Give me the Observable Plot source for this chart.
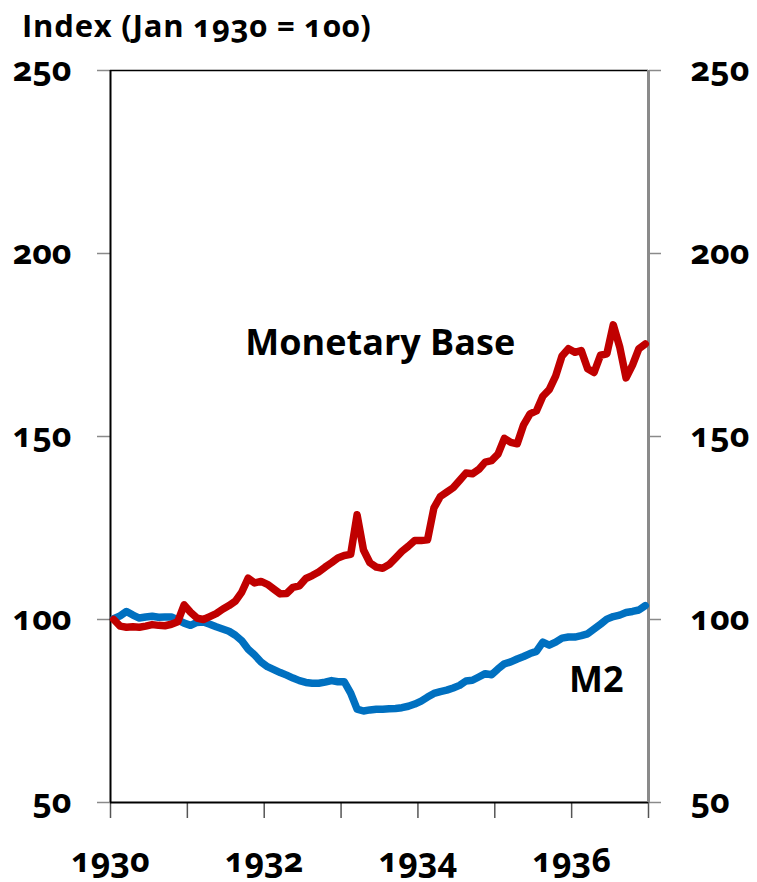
<!DOCTYPE html>
<html>
<head>
<meta charset="utf-8">
<script src="https://cdn.jsdelivr.net/npm/d3@7"></script>
<script src="https://cdn.jsdelivr.net/npm/@observablehq/plot@0.6"></script>
<style>
  html, body { margin: 0; padding: 0; background: #fff; }
  body { width: 757px; height: 882px; overflow: hidden; font-family: "Open Sans", Lato, sans-serif; }
  #title { height: 40px; position: relative; }
  #title span { position: absolute; left: 22px; top: 10px; font-size: 31px; line-height: 31px; letter-spacing: 0.8px; font-weight: 700; color: #000; font-variant-numeric: oldstyle-nums; white-space: nowrap; }
</style>
</head>
<body>
<div id="title"><span>Index (Jan 1930 = 100)</span></div>
<div id="chart"></div>
<script>
// Monthly values, Jan 1930 – Dec 1936 (index, Jan 1930 = 100)
const startYear = 1930;
const yearTicks = [1930, 1931, 1932, 1933, 1934, 1935, 1936, 1937];
const yearLabels = [1930, 1932, 1934, 1936];
const yTicks = [50, 100, 150, 200, 250];

const monetaryBase = [
  100.0, 98.2, 97.9, 98.0, 97.9, 98.2, 98.6, 98.4, 98.3, 98.7, 99.4, 104.0,
  102.0, 100.4, 100.0, 100.8, 101.6, 102.8, 103.8, 105.0, 107.5, 111.3, 110.0, 110.4,
  109.6, 108.3, 107.0, 107.1, 108.8, 109.2, 111.2, 112.0, 113.0, 114.3, 115.5, 116.8,
  117.5, 117.8, 128.6, 119.0, 115.5, 114.3, 114.0, 115.0, 116.8, 118.6, 120.0, 121.6,
  121.6, 121.8, 130.5, 133.6, 134.8, 136.0, 138.0, 140.0, 139.8, 141.0, 143.0, 143.4,
  145.2, 149.5, 148.4, 148.0, 153.2, 156.2, 157.0, 161.0, 162.8, 166.5, 172.0, 174.0,
  173.0, 173.5, 168.5, 167.5, 172.2, 172.6, 180.5, 174.5, 166.0, 169.5, 174.0, 175.3
];

const m2 = [
  100.2, 101.0, 102.2, 101.2, 100.4, 100.7, 100.9, 100.6, 100.7, 100.7, 99.9, 99.0,
  98.4, 99.2, 99.3, 98.7, 98.0, 97.4, 96.8, 95.7, 94.2, 91.9, 90.3, 88.4,
  87.1, 86.3, 85.5, 84.8, 84.0, 83.3, 82.8, 82.6, 82.6, 82.9, 83.3, 83.0,
  83.0, 79.9, 75.5, 75.0, 75.3, 75.5, 75.5, 75.6, 75.7, 75.9, 76.3, 76.9,
  77.7, 78.8, 79.8, 80.3, 80.7, 81.3, 82.0, 83.2, 83.4, 84.3, 85.2, 84.9,
  86.5, 87.9, 88.4, 89.2, 89.9, 90.7, 91.3, 93.8, 93.0, 93.8, 94.9, 95.2,
  95.2, 95.6, 96.1, 97.4, 98.7, 100.1, 100.8, 101.2, 101.9, 102.2, 102.6, 103.8
];

const monthX = (d, i) => startYear + (i + 0.5) / 12;
const font = {fontSize: 34, fontWeight: 700, fontVariant: "oldstyle-nums"};
const grey = "#8a8a8a";

const chart = Plot.plot({
  width: 757,
  height: 842,
  marginLeft: 110,
  marginRight: 109,
  marginTop: 30,
  marginBottom: 80,
  style: {fontFamily: "'Open Sans', Lato, sans-serif", color: "#000", background: "#fff"},
  x: {domain: [1930, 1937]},
  y: {domain: [50, 250]},
  marks: [
    Plot.axisY({anchor: "left", ticks: yTicks, tickSize: 13, tickPadding: 26, stroke: grey, strokeWidth: 1.5, tickFormat: d => String(d), ...font}),
    Plot.axisY({anchor: "right", ticks: yTicks, tickSize: 12, tickPadding: 30, stroke: grey, strokeWidth: 1.5, tickFormat: d => String(d), ...font}),
    Plot.axisX({ticks: yearTicks, tickSize: 16, stroke: "#555", strokeWidth: 1.5, tickFormat: () => ""}),
    Plot.axisX({ticks: yearLabels, tickSize: 0, tickPadding: 45, tickFormat: d => String(d), ...font}),
    Plot.ruleY([250], {stroke: "#000", strokeWidth: 1.5}),
    Plot.ruleY([50], {stroke: "#000", strokeWidth: 2}),
    Plot.ruleX([1930], {stroke: "#000", strokeWidth: 2}),
    Plot.ruleX([1937], {stroke: grey, strokeWidth: 3}),
    Plot.line(m2, {x: monthX, y: d => d, stroke: "#0070C0", strokeWidth: 7.5}),
    Plot.line(monetaryBase, {x: monthX, y: d => d, stroke: "#C00000", strokeWidth: 7.5}),
    Plot.text(["Monetary Base"], {x: 1933.51, y: 175.4, text: d => d, fontSize: 36, fontWeight: 700, fill: "#000"}),
    Plot.text(["M2"], {x: 1936.32, y: 83.3, text: d => d, fontSize: 36, fontWeight: 700, fontVariant: "lining-nums", fill: "#000"})
  ]
});
document.getElementById("chart").appendChild(chart);
</script>
</body>
</html>
